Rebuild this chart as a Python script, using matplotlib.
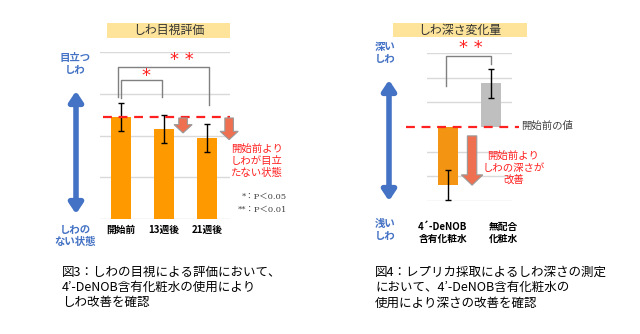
#!/usr/bin/env python3

import matplotlib
matplotlib.use("Agg")
import matplotlib.pyplot as plt
from matplotlib.patches import FancyArrow, FancyArrowPatch, Rectangle

plt.rcParams["font.family"] = ["Noto Sans CJK JP", "DejaVu Sans"]

# left chart: visual evaluation
visual_labels = ["開始前", "13週後", "21週後"]
visual_values = [2.44, 2.16, 1.94]
visual_errors = [0.33, 0.34, 0.34]

# right chart: wrinkle depth change
depth_labels = ["4´-DeNOB\n含有化粧水", "無配合\n化粧水"]
depth_values = [-2.35, 1.78]
depth_errors = [0.6, 0.59]

W, H = 640, 334
fig = plt.figure(figsize=(W / 100, H / 100), dpi=100)


def fx(x):
    return x / W


def fy(y):
    return 1 - y / H


def axes_px(x0, x1, ytop, ybot):
    return fig.add_axes([fx(x0), fy(ybot), fx(x1) - fx(x0), (ybot - ytop) / H])


BLUE = "#4472C4"
RED = "#FF2020"
ARROW = "#EE7050"
GRID = "#D9D9D9"
BRACKET = "#808080"

# ---------------- left chart ----------------
ax1 = axes_px(100, 230, 52, 219)
ax1.set_xlim(-0.49, 2.53)
ax1.set_ylim(0, 4)
ax1.axis("off")
for g in range(5):
    ax1.axhline(g, color=GRID, lw=1, zorder=0)
xs = range(len(visual_values))
ax1.bar(xs, visual_values, width=0.465, color="#FF9900", zorder=2)
ax1.errorbar(xs, visual_values, yerr=visual_errors, fmt="none", ecolor="black",
             elinewidth=1, capsize=2.5, capthick=1, zorder=3)
ax1.axhline(visual_values[0], xmin=0.02, xmax=1.0, color=RED, lw=1.6,
            ls=(0, (4, 3)), zorder=4, clip_on=False)

# brackets
ax1.plot([0.0, 0.0, 0.95, 0.95], [2.9, 3.33, 3.33, 2.92], color=BRACKET, lw=1, clip_on=False)
ax1.plot([-0.07, -0.07, 2.05, 2.05], [2.92, 3.64, 3.64, 2.73], color=BRACKET, lw=1, clip_on=False)
ax1.text(0.58, 3.42, "*", color=RED, fontsize=13, ha="center", va="center",
         family=["DejaVu Sans"])
ax1.text(1.42, 3.80, "* *", color=RED, fontsize=13, ha="center", va="center",
         family=["DejaVu Sans"])

# small down arrows
for xa, length in [(1.44, 0.36), (2.51, 0.52)]:
    ax1.add_patch(FancyArrow(xa, visual_values[0] - 0.02, 0, -length, width=0.2,
                             head_width=0.42, head_length=0.2, length_includes_head=True,
                             facecolor=ARROW, edgecolor="#9A9A9A", lw=0.8,
                             clip_on=False, zorder=5))

ax1.text(2.55, 1.39, "開始前より\nしわが目立\nたない状態", color=RED, fontsize=7.5,
         ha="left", va="center", linespacing=1.25)
p_font = ["DejaVu Serif", "Noto Sans CJK JP"]
fig.text(fx(287), fy(197), "*：P＜0.05", fontsize=6, color="#404040", ha="right",
         va="center", family=p_font)
fig.text(fx(287), fy(210), "**：P＜0.01", fontsize=6, color="#404040", ha="right",
         va="center", family=p_font)

for i, lab in enumerate(visual_labels):
    ax1.text(i, -0.27, lab, fontsize=7, fontweight="bold", ha="center", va="center")

# ---------------- right chart ----------------
ax2 = axes_px(427, 512, 53, 201)
ax2.set_xlim(-0.49, 1.49)
ax2.set_ylim(-3, 3)
ax2.axis("off")
for g in range(-3, 4):
    if g != 0:
        ax2.axhline(g, color=GRID, lw=1, zorder=0)
ax2.bar([0, 1], depth_values, width=0.465, color=["#F39512", "#BFBFBF"], zorder=2)
ax2.errorbar([0, 1], depth_values, yerr=depth_errors, fmt="none", ecolor="black",
             elinewidth=1, capsize=2.5, capthick=1, zorder=3)
ax2.plot([-0.97, 1.65], [0, 0], color=RED, lw=1.6, ls=(0, (4, 3)), zorder=4, clip_on=False)
ax2.text(1.7, 0.03, "開始前の値", fontsize=7.5, color="#404040", ha="left", va="center")

ax2.plot([-0.05, -0.05, 1.0, 1.0], [1.66, 2.87, 2.87, 2.55], color=BRACKET, lw=1, clip_on=False)
ax2.text(0.53, 3.22, "* *", color=RED, fontsize=13, ha="center", va="center",
         family=["DejaVu Sans"])

ax2.add_patch(FancyArrow(0.56, -0.36, 0, -2.0, width=0.22, head_width=0.5,
                         head_length=0.42, length_includes_head=True,
                         facecolor=ARROW, edgecolor="#9A9A9A", lw=0.8,
                         clip_on=False, zorder=5))
ax2.text(1.52, -1.68, "開始前より\nしわの深さが\n改善", color=RED, fontsize=7.5,
         ha="center", va="center", linespacing=1.25)

for xi, lab in zip([-0.12, 1.3], depth_labels):
    ax2.text(xi, -4.3, lab, fontsize=7, fontweight="bold", ha="center", va="center",
             linespacing=1.2)

# ---------------- blue scale arrows and labels ----------------
for x, y0, y1 in [(76, 83, 222), (389, 72, 209)]:
    fig.add_artist(FancyArrowPatch((fx(x), fy(y0 + 8)), (fx(x), fy(y1 - 8)),
                                   transform=fig.transFigure,
                                   arrowstyle="<|-|>,head_width=4,head_length=6",
                                   color=BLUE, lw=4, shrinkA=0, shrinkB=0))

side_text = [
    (75, 64, "目立つ\nしわ"),
    (75, 236, "しわの\nない状態"),
    (385, 53, "深い\nしわ"),
    (385, 230, "浅い\nしわ"),
]
for x, y, s in side_text:
    fig.text(fx(x), fy(y), s, color=BLUE, fontsize=7.5, fontweight="bold",
             ha="center", va="center", linespacing=1.15)

# ---------------- title boxes ----------------
for x0, x1, y0, y1, s in [(107, 230, 23, 38, "しわ目視評価"), (393, 527, 23, 37, "しわ深さ変化量")]:
    fig.add_artist(Rectangle((fx(x0), fy(y1)), fx(x1) - fx(x0), (y1 - y0) / H,
                             transform=fig.transFigure, facecolor="#FDE49A",
                             edgecolor="none"))
    fig.text(fx((x0 + x1) / 2), fy((y0 + y1) / 2), s, fontsize=8.6, color="#333333",
             ha="center", va="center")

# ---------------- captions ----------------
fig.text(fx(62), fy(266), "図3：しわの目視による評価において、\n4’-DeNOB含有化粧水の使用により\nしわ改善を確認",
         fontsize=9, ha="left", va="top", linespacing=1.22, color="black")
fig.text(fx(375), fy(266), "図4：レプリカ採取によるしわ深さの測定\nにおいて、4’-DeNOB含有化粧水の\n使用により深さの改善を確認",
         fontsize=9, ha="left", va="top", linespacing=1.22, color="black")

fig.savefig("out.png", dpi=100)
